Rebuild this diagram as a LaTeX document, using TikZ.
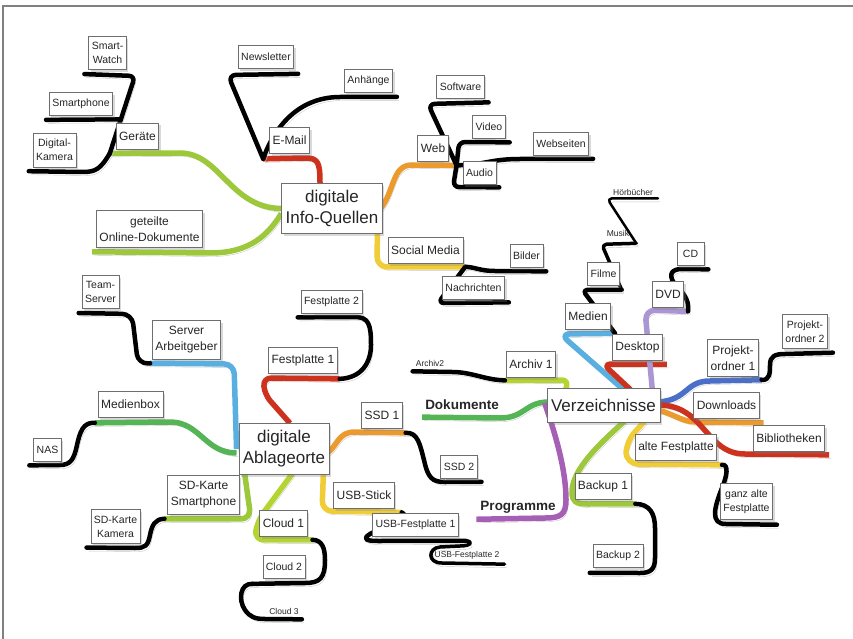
\documentclass[tikz,border=0pt]{standalone}
\usepackage{fontspec}
\setmainfont{Liberation Sans}
\usetikzlibrary{calc,shadows,backgrounds}

\definecolor{limegreen}{RGB}{158,200,60}
\definecolor{paleline}{RGB}{180,212,50}
\definecolor{mapred}{RGB}{205,50,30}
\definecolor{maporange}{RGB}{235,155,45}
\definecolor{mapyellow}{RGB}{240,205,55}
\definecolor{mapblue}{RGB}{90,175,225}
\definecolor{mapgreen}{RGB}{85,180,85}
\definecolor{mappurple}{RGB}{165,95,180}
\definecolor{maplilac}{RGB}{170,150,210}
\definecolor{mapnavy}{RGB}{75,110,200}
\definecolor{boxframe}{RGB}{110,110,110}
\definecolor{framegray}{RGB}{128,128,128}

\tikzset{
  box/.style={draw=boxframe, line width=0.7pt, fill=white, align=center, text=black!85,
    inner xsep=3pt, inner ysep=6pt,
    drop shadow={opacity=0.3, shadow xshift=2pt, shadow yshift=-2.5pt}},
  hub/.style={box, font=\fontsize{17}{21}\selectfont, inner xsep=4pt, inner ysep=7pt, minimum height=34pt},
  lvlone/.style={box, font=\fontsize{12}{16}\selectfont, minimum height=26pt},
  lvltwo/.style={box, font=\fontsize{10.5}{14}\selectfont, minimum height=23pt},
  twig/.style={font=\fontsize{8.5}{10}\selectfont, inner sep=1pt, text=black!85},
  bare/.style={font=\bfseries\fontsize{13.5}{16}\selectfont, inner sep=1pt, text=black!85},
  branch/.style={line width=5.5pt, line join=round,
    preaction={draw=black!22, transform canvas={shift={(2pt,-3.5pt)}}}},
  stem/.style={branch, draw=black, line width=4.5pt, line cap=round},
}

\begin{document}
\begin{tikzpicture}[x=1pt,y=-1pt]
\useasboundingbox (0,0) rectangle (853,639);
\draw[framegray, line width=1.3pt] (3,639) -- (3,6) -- (853,6);

\node(infoq) at (332,208.5) [hub]{digitale\\Info-Quellen};
\node(geraete) at (137.5,136) [lvlone]{Geräte};
\node(smartwatch) at (107.5,53) [lvltwo]{Smart-\\Watch};
\node(smartphone) at (81,104) [lvltwo]{Smartphone};
\node(digikam) at (54.5,150) [lvltwo]{Digital-\\Kamera};
\node(online) at (149.5,229) [lvlone]{geteilte\\Online-Dokumente};
\node(email) at (289.5,140.5) [lvlone]{E-Mail};
\node(newsletter) at (266,57) [lvltwo]{Newsletter};
\node(anhaenge) at (368.5,81) [lvltwo]{Anhänge};
\node(web) at (433,148) [lvlone]{Web};
\node(software) at (460.5,86.5) [lvltwo]{Software};
\node(video) at (489,126.5) [lvltwo]{Video};
\node(webseiten) at (561,144) [lvltwo]{Webseiten};
\node(audio) at (479.5,172.5) [lvltwo]{Audio};
\node(social) at (425.5,250.5) [lvlone]{Social Media};
\node(bilder) at (526.5,255.5) [lvltwo]{Bilder};
\node(nachrichten) at (473.5,287.5) [lvltwo]{Nachrichten};

\node(ablage) at (284,449) [hub]{digitale\\Ablageorte};
\node(teamserver) at (100.5,292) [lvltwo]{Team-\\Server};
\node(server) at (186.5,339.5) [lvlone]{Server\\Arbeitgeber};
\node(fptwo) at (331.5,301.5) [lvltwo]{Festplatte 2};
\node(fpone) at (303,360.5) [lvlone]{Festplatte 1};
\node(medienbox) at (130.5,404.5) [lvlone]{Medienbox};
\node(nas) at (47.5,449.5) [lvltwo]{NAS};
\node(ssdone) at (382,415.5) [lvlone]{SSD 1};
\node(ssdtwo) at (459,467) [lvltwo]{SSD 2};
\node(usbstick) at (364,495) [lvlone]{USB-Stick};
\node(usbfpone) at (415.5,525) [lvltwo]{USB-Festplatte 1};
\node(usbfptwo) at (467,555) [twig]{USB-Festplatte 2};
\node(sdphone) at (203.5,495) [lvlone]{SD-Karte\\Smartphone};
\node(sdkam) at (115.5,526.5) [lvltwo]{SD-Karte\\Kamera};
\node(cloudone) at (283.5,523.5) [lvlone]{Cloud 1};
\node(cloudtwo) at (284,567) [lvltwo]{Cloud 2};
\node(cloudthree) at (284,611) [twig]{Cloud 3};

\node(verz) at (603.5,405) [hub]{Verzeichnisse};
\node(medien) at (588,316) [lvlone]{Medien};
\node(filme) at (603.5,274) [lvltwo]{Filme};
\node(musik) at (618,233) [twig]{Musik};
\node(hoerbuecher) at (633,192) [twig]{Hörbücher};
\node(desktop) at (637.5,347) [lvlone]{Desktop};
\node(dvd) at (668,294) [lvlone]{DVD};
\node(cd) at (690.5,253.5) [lvltwo, minimum width=27pt]{CD};
\node(archivone) at (531,364) [lvlone]{Archiv 1};
\node(archivtwo) at (430,363) [twig]{Archiv2};
\node(dokumente) at (462,405) [bare]{Dokumente};
\node(programme) at (518,507) [bare]{Programme};
\node(backupone) at (603,486.5) [lvlone]{Backup 1};
\node(backuptwo) at (618,556) [lvltwo]{Backup 2};
\node(altefp) at (676,447.5) [lvlone]{alte Festplatte};
\node(ganzalt) at (746.5,501.5) [lvltwo]{ganz alte\\Festplatte};
\node(projone) at (733,358) [lvlone]{Projekt-\\ordner 1};
\node(projtwo) at (805,331.5) [lvltwo]{Projekt-\\ordner 2};
\node(downloads) at (726.5,405.5) [lvlone]{Downloads};
\node(biblio) at (789,438.5) [lvlone]{Bibliotheken};

\coordinate (jgeraete) at ($(geraete.south west)+(-6,4)$);
\coordinate (jemail) at ($(email.south west)+(-6,5)$);
\coordinate (jweb) at ($(web.south east)+(8,4)$);
\coordinate (jsocial) at ($(social.south east)+(2,3)$);
\coordinate (jserver) at ($(server.south west)+(-2,4)$);
\coordinate (jfpone) at ($(fpone.south east)+(2,5)$);
\coordinate (jmedienbox) at ($(medienbox.south west)+(-3,5)$);
\coordinate (jssdone) at ($(ssdone.south east)+(3,4)$);
\coordinate (jusb) at ($(usbstick.south east)+(7,4)$);
\coordinate (jusbfp) at ($(usbfpone.south east)+(7,4)$);
\coordinate (jsdphone) at ($(sdphone.south west)+(-3,4)$);
\coordinate (jcloudone) at ($(cloudone.south east)+(5,3)$);
\coordinate (jcloudtwo) at ($(cloudtwo.south west)+(-10,5)$);
\coordinate (jarchiv) at ($(archivone.south west)+(-1,3)$);
\coordinate (jmedien) at ($(medien.south east)+(4,4)$);
\coordinate (jfilme) at ($(filme.south east)+(2,4)$);
\coordinate (jmusik) at ($(musik.south east)+(6,6)$);
\coordinate (jdvd) at ($(dvd.south east)+(4,4)$);
\coordinate (jprojone) at ($(projone.south east)+(3,3)$);
\coordinate (jalte) at ($(altefp.south east)+(5,4)$);
\coordinate (jbackupone) at ($(backupone.south east)+(4,4)$);

\begin{scope}[on background layer]
\draw[branch, limegreen] (infoq.west) .. controls (230,208) and (220,153) .. (180,153) -- (jgeraete);
\draw[stem, rounded corners=6pt] (jgeraete) -- (135,76) -- ($(smartwatch.south west)+(-4,4)$);
\draw[stem] ($(smartphone.south west)+(-3,4)$) -- ($(jgeraete)!0.44!(135,76)$);
\draw[stem] (jgeraete) .. controls (100,170) and (95,172) .. (82,172) -- ($(digikam.south west)+(-4,4)$);
\draw[branch, limegreen] ($(infoq.west)+(0,5)$) .. controls (268,235) and (250,253) .. (210,253) -- ($(online.south west)+(-4,4)$);
\draw[branch, mapred] ($(infoq.north)+(-12,0)$) .. controls (320,162) and (318,158) .. (305,158) -- (jemail);
\draw[stem, rounded corners=8pt] (jemail) -- (228,75) -- ($(newsletter.south east)+(4,5)$);
\draw[stem] (jemail) .. controls (275,125) and (300,97) .. (340,97) -- ($(anhaenge.south east)+(4,4)$);
\draw[branch, maporange] ($(infoq.east)+(-2,0)$) .. controls (395,190) and (392,165) .. (412,165) -- (jweb);
\draw[stem, rounded corners=7pt] (jweb) -- (428,104) -- ($(software.south east)+(4,4)$);
\draw[stem, rounded corners=6pt] (jweb) -- (459,142) -- ($(video.south east)+(4,4)$);
\draw[stem] (jweb) .. controls (485,165) and (490,159) .. (520,159) -- ($(webseiten.south east)+(4,3)$);
\draw[stem, rounded corners=6pt] (jweb) -- (453,187) -- ($(audio.south east)+(3,3)$);
\draw[branch, mapyellow, rounded corners=10pt] ($(infoq.east)+(-5,-3)$) -- (377,267) -- (jsocial);
\draw[stem] (jsocial) .. controls (475,267) and (480,271) .. (495,271) -- ($(bilder.south east)+(3,4)$);
\draw[stem, rounded corners=6pt] (jsocial) -- (438,303) -- ($(nachrichten.south east)+(4,3)$);

\draw[branch, mapblue, rounded corners=10pt] ($(ablage.west)+(-2,0)$) -- (234,364) -- (jserver);
\draw[stem, rounded corners=10pt] (jserver) -- (138,364) -- (132,314) -- ($(teamserver.south west)+(-3,4)$);
\draw[branch, mapred, rounded corners=8pt] ($(ablage.north)+(6,0)$) -- (265,395) -- (263,378) -- (jfpone);
\draw[stem] (jfpone) .. controls (362,378) and (371,362) .. (371,345) .. controls (371,325) and (369,317) .. (355,317) -- ($(fptwo.south west)+(-3,4)$);
\draw[branch, mapgreen] ($(ablage.west)+(-2,4)$) .. controls (205,453) and (200,422) .. (170,422) -- (jmedienbox);
\draw[stem] (jmedienbox) .. controls (83,422) and (80,432) .. (77,445) .. controls (74,460) and (70,465) .. (60,465) -- ($(nas.south west)+(-4,4)$);
\draw[branch, maporange] ($(ablage.east)+(-2,4)$) .. controls (338,445) and (338,432) .. (355,432) -- (jssdone);
\draw[stem] (jssdone) .. controls (418,432) and (420,445) .. (424,460) .. controls (428,478) and (432,482) .. (445,482) -- ($(ssdtwo.south east)+(4,3)$);
\draw[branch, mapyellow, rounded corners=10pt] ($(ablage.south east)+(-6,-4)$) -- (322,511) -- (jusb);
\draw[stem] (jusb) .. controls (412,516) and (385,526) .. (370,534) .. controls (362,539) and (366,541) .. (378,541) -- (jusbfp);
\draw[stem, line width=3.5pt] (jusbfp) .. controls (473,541) and (472,546) .. (460,546) -- (440,547) .. controls (428,548) and (427,563) .. (442,563) -- ($(usbfptwo.south east)+(4,4)$);
\draw[branch, limegreen, rounded corners=10pt] ($(ablage.south west)+(6,-2)$) -- (251,519) -- (jsdphone);
\draw[stem] (jsdphone) .. controls (155,519) and (152,525) .. (150,535) .. controls (148,546) and (145,548) .. (135,548) -- ($(sdkam.south west)+(-4,4)$);
\draw[branch, paleline, rounded corners=10pt] ($(ablage.south)+(9,-2)$) -- (258,520) -- (254,540) -- (jcloudone);
\draw[stem] (jcloudone) .. controls (322,540) and (325,548) .. (325,560) .. controls (325,578) and (320,583) .. (305,583) -- (jcloudtwo);
\draw[stem] (jcloudtwo) .. controls (240,583) and (238,600) .. (245,610) .. controls (250,617) and (255,619) .. (265,619) -- ($(cloudthree.south east)+(2,4)$);

\draw[branch, mapgreen] ($(verz.west)+(2,-3)$) .. controls (525,402) and (525,418) .. (500,418) -- ($(dokumente.south west)+(-2,6)$);
\draw[branch, mappurple] ($(verz.west)+(-2,-2)$) .. controls (552,425) and (566,465) .. (566,500) .. controls (566,515) and (560,518) .. (545,518) -- ($(programme.south west)+(-3,5)$);
\draw[branch, paleline, rounded corners=6pt] ($(verz.north west)+(19,2)$) -- (568,380) -- (jarchiv);
\draw[stem] (jarchiv) .. controls (485,380) and (472,372) .. (452,372) -- ($(archivtwo.south west)+(-2,4)$);
\draw[branch, mapblue, rounded corners=10pt] ($(verz.north)+(20,2)$) -- (560,334) -- (jmedien);
\draw[stem, rounded corners=5pt] (jmedien) -- ($(filme.south west)+(-5,4)$) -- (jfilme);
\draw[stem, line width=3.5pt, rounded corners=5pt] (jfilme) -- ($(musik.south west)+(-4,7)$) -- (jmusik);
\draw[stem, line width=2.5pt, rounded corners=5pt] (jmusik) -- ($(hoerbuecher.south west)+(-5,2)$) -- ($(hoerbuecher.south east)+(4,2)$);
\draw[branch, mapred, rounded corners=8pt] ($(verz.north)+(27,2)$) -- (603,364) -- ($(desktop.south east)+(4,4)$);
\draw[branch, maplilac, rounded corners=10pt] ($(verz.north east)+(-8,2)$) -- (645,310) -- (jdvd);
\draw[stem] (jdvd) .. controls (690,298) and (680,290) .. (674,283) .. controls (668,274) and (672,269) .. (682,269) -- ($(cd.south east)+(4,4)$);
\draw[branch, mapnavy] ($(verz.east)+(-2,-3)$) .. controls (688,400) and (685,381) .. (710,381) -- (jprojone);
\draw[stem] (jprojone) .. controls (770,381) and (770,372) .. (770,365) .. controls (770,356) and (775,354) .. (785,354) -- ($(projtwo.south east)+(5,4)$);
\draw[branch, maporange] ($(verz.east)+(-2,5)$) .. controls (678,416) and (682,422) .. (698,422) -- ($(downloads.south east)+(4,4)$);
\draw[branch, mapred] ($(verz.east)+(-2,0)$) .. controls (705,405) and (705,454) .. (745,454) -- ($(biblio.south east)+(4,3)$);
\draw[branch, mapyellow, rounded corners=12pt] ($(verz.south east)+(-15,-2)$) -- (626,442) -- (626,464) -- (jalte);
\draw[stem] (jalte) .. controls (729,464) and (727,476) .. (722,488) .. controls (714,508) and (710,524) .. (726,524) -- ($(ganzalt.south east)+(4,5)$);
\draw[branch, limegreen] ($(verz.south)+(22,-2)$) .. controls (598,445) and (572,470) .. (572,492) .. controls (572,502) and (576,504) .. (588,504) -- (jbackupone);
\draw[stem] (jbackupone) .. controls (650,504) and (655,514) .. (655,528) -- (655,558) .. controls (655,569) and (651,573) .. (640,573) -- ($(backuptwo.south west)+(-3,5)$);
\end{scope}

\end{tikzpicture}
\end{document}
